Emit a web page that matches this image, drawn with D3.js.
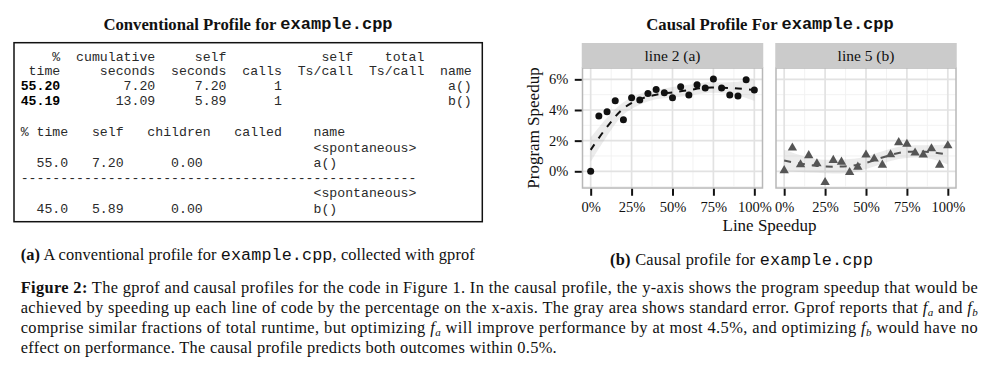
<!DOCTYPE html>
<meta charset="utf-8">
<style>
    html, body {
        margin: 0;
        padding: 0;
        background: #fff;
    }

    svg text {
        font-family: "Liberation Serif", "Times New Roman", serif;
        fill: #111;
    }

    svg .mono {
        font-family: "Liberation Mono", "Courier New", monospace;
    }

    .axis text {
        font-family: "Liberation Serif", serif;
        font-size: 14.5px;
        fill: #111;
    }

    .axis line {
        stroke: #111;
        stroke-width: 2px;
    }

    .axis path {
        display: none;
    }
</style>
<body>
<div id="fig"></div>
<script src="https://cdn.jsdelivr.net/npm/d3@7"></script>
<script>
// ---- causal profile data ----
var speedup = [0, 5, 10, 15, 20, 25, 30, 35, 40, 45, 50, 55, 60, 65, 70, 75, 80, 85, 90, 95, 100];
var lineA = [0, 3.6, 3.89, 4.6, 3.36, 4.8, 4.65, 5.07, 5.33, 5.13, 4.8, 5.52, 4.98, 5.65, 5.44, 6.03, 5.44, 4.98, 4.91, 5.98, 5.31];
var lineB = [0.05, 1.53, 0.44, 1.03, 0.5, -0.72, 0.72, 0.61, -0.07, 0.28, 1.07, 0.81, 0.41, 1.09, 1.88, 1.77, 1.2, 1.07, 1.48, 0.41, 1.68];

// smoothed fit and standard error band
var fitX = [0, 10, 20, 30, 40, 50, 60, 70, 80, 90, 100];
var fitA = [1.4, 2.9, 4.1, 4.7, 5.0, 5.15, 5.3, 5.45, 5.45, 5.4, 5.3];
var loA  = [0.6, 2.3, 3.7, 4.35, 4.7, 4.8, 4.95, 5.1, 5.1, 4.95, 4.6];
var hiA  = [2.2, 3.5, 4.5, 5.05, 5.3, 5.5, 5.65, 5.8, 5.8, 5.85, 6.0];
var fitB = [0.7, 0.5, 0.35, 0.3, 0.35, 0.55, 0.9, 1.2, 1.3, 1.25, 1.1];
var loB  = [0.0, -0.05, -0.1, -0.15, -0.1, 0.15, 0.5, 0.8, 0.9, 0.8, 0.45];
var hiB  = [1.4, 1.05, 0.8, 0.75, 0.8, 0.95, 1.3, 1.6, 1.7, 1.7, 1.75];

var xTicks = [0, 25, 50, 75, 100];
var xMinor = [12.5, 37.5, 62.5, 87.5];
var yTicks = [0, 2, 4, 6];
var yMinor = [-1, 1, 3, 5];
var panelNames = ["line 2 (a)", "line 5 (b)"];

// ---- gprof output ----
var flatHead1 = ["%", "cumulative", "self", "", "self", "total", ""];
var flatHead2 = ["time", "seconds", "seconds", "calls", "Ts/call", "Ts/call", "name"];
var flatRows = [
    ["55.20", "7.20", "7.20", "1", "", "", "a()"],
    ["45.19", "13.09", "5.89", "1", "", "", "b()"]
];
var callHead = ["% time", "self", "children", "called", "name"];
var callRows = [
    ["55.0", "7.20", "0.00", "", "a()"],
    ["45.0", "5.89", "0.00", "", "b()"]
];

var svg = d3.select("#fig").append("svg")
    .attr("width", 992)
    .attr("height", 371);

svg.append("rect")
    .attr("width", 992)
    .attr("height", 371)
    .attr("fill", "#fff");

// titles
function title(cx, label) {
    var t = svg.append("text")
        .attr("x", cx)
        .attr("y", 24)
        .attr("text-anchor", "middle")
        .attr("dominant-baseline", "central")
        .style("font-weight", "bold")
        .style("font-size", "16.7px");
    t.append("tspan").text(label);
    t.append("tspan").attr("class", "mono").style("font-size", "17px").text("example.cpp");
}
title(248, "Conventional Profile for ");
title(770, "Causal Profile For ");

// ---- left: the gprof table ----
svg.append("rect")
    .attr("x", 14)
    .attr("y", 42.7)
    .attr("width", 468.3)
    .attr("height", 179)
    .attr("fill", "none")
    .attr("stroke", "#111")
    .attr("stroke-width", 1.5);

var flatWidths = [5, 12, 9, 7, 9, 9, 6];
function flatLine(cells) {
    return cells.map(function(c, i) { return c.padStart(flatWidths[i]); });
}

var tableX = 20.7;
var table = svg.append("g");

function monoText(y, parts) {
    var t = table.append("text")
        .attr("class", "mono")
        .attr("x", tableX)
        .attr("y", y)
        .attr("xml:space", "preserve")
        .style("white-space", "pre")
        .style("font-size", "13.2px")
        .style("fill", "#2a2a2a");
    parts.forEach(function(p) {
        t.append("tspan")
            .style("font-weight", p.bold ? "bold" : null)
            .style("fill", p.bold ? "#000" : null)
            .text(p.text);
    });
}

monoText(60.5, [{text: flatLine(flatHead1).join("")}]);
monoText(75.3, [{text: flatLine(flatHead2).join("")}]);
flatRows.forEach(function(r, i) {
    var cells = flatLine(r);
    monoText(90.1 + i * 14.8, [{text: cells[0], bold: true}, {text: cells.slice(1).join("")}]);
});

// call graph part
var callStarts = [0, 9, 16, 27, 37];
function callHeadLine() {
    var s = "";
    callHead.forEach(function(h, i) { s = s.padEnd(callStarts[i]) + h; });
    return s;
}
function callRowLine(r) {
    var s = r[0].padStart(6) + r[1].padStart(7) + r[2].padStart(10) + r[3];
    return s.padEnd(callStarts[4]) + r[4];
}

var callY = 136.2, callStep = 15.3;
monoText(callY, [{text: callHeadLine()}]);
callRows.forEach(function(r, i) {
    var base = callY + callStep * (1 + i * 3);
    monoText(base, [{text: "".padEnd(callStarts[4]) + "<spontaneous>"}]);
    monoText(base + callStep, [{text: callRowLine(r)}]);
    if (i < callRows.length - 1) {
        monoText(base + 2 * callStep, [{text: "-".repeat(50)}]);
    }
});

// ---- right: the causal profile panels ----
var panelX = [582.5, 776],
    panelW = 180,
    stripTop = 43,
    panelTop = 68,
    panelBottom = 188;

var y = d3.scaleLinear().domain([-1.09, 6.74]).range([panelBottom, panelTop]);

var panels = [
    {name: panelNames[0], pts: lineA, fit: fitA, lo: loA, hi: hiA, color: "#111", shape: "circle"},
    {name: panelNames[1], pts: lineB, fit: fitB, lo: loB, hi: hiB, color: "#555", shape: "triangle"}
];

panels.forEach(function(p, i) {
    var x = d3.scaleLinear().domain([-5, 105]).range([panelX[i], panelX[i] + panelW]);
    var g = svg.append("g");

    // grid
    g.selectAll(".minorx").data(xMinor).enter().append("line")
        .attr("x1", x).attr("x2", x)
        .attr("y1", panelTop).attr("y2", panelBottom)
        .attr("stroke", "#f0f0f0").attr("stroke-width", 0.9);
    g.selectAll(".minory").data(yMinor).enter().append("line")
        .attr("x1", panelX[i]).attr("x2", panelX[i] + panelW)
        .attr("y1", y).attr("y2", y)
        .attr("stroke", "#f0f0f0").attr("stroke-width", 0.9);
    g.selectAll(".majorx").data(xTicks).enter().append("line")
        .attr("x1", x).attr("x2", x)
        .attr("y1", panelTop).attr("y2", panelBottom)
        .attr("stroke", "#e2e2e2").attr("stroke-width", 1.7);
    g.selectAll(".majory").data(yTicks).enter().append("line")
        .attr("x1", panelX[i]).attr("x2", panelX[i] + panelW)
        .attr("y1", y).attr("y2", y)
        .attr("stroke", "#e2e2e2").attr("stroke-width", 1.7);

    // standard error ribbon
    var band = fitX.map(function(d, k) { return {x: d, lo: p.lo[k], hi: p.hi[k], fit: p.fit[k]}; });
    g.append("path")
        .datum(band)
        .attr("fill", "#aaa")
        .attr("fill-opacity", 0.22)
        .attr("d", d3.area()
            .curve(d3.curveCatmullRom)
            .x(function(d) { return x(d.x); })
            .y0(function(d) { return y(d.lo); })
            .y1(function(d) { return y(d.hi); }));

    g.append("path")
        .datum(band)
        .attr("fill", "none")
        .attr("stroke", p.color)
        .attr("stroke-width", 2)
        .attr("stroke-dasharray", "7,7")
        .attr("d", d3.line()
            .curve(d3.curveCatmullRom)
            .x(function(d) { return x(d.x); })
            .y(function(d) { return y(d.fit); }));

    // points
    var pts = speedup.map(function(s, k) { return {x: s, y: p.pts[k]}; });
    if (p.shape === "circle") {
        g.selectAll(".pt").data(pts).enter().append("circle")
            .attr("cx", function(d) { return x(d.x); })
            .attr("cy", function(d) { return y(d.y); })
            .attr("r", 3.5)
            .attr("fill", p.color);
    } else {
        g.selectAll(".pt").data(pts).enter().append("path")
            .attr("transform", function(d) { return "translate(" + x(d.x) + "," + y(d.y) + ")"; })
            .attr("d", d3.symbol(d3.symbolTriangle, 38))
            .attr("fill", p.color);
    }

    // panel border and strip
    g.append("rect")
        .attr("x", panelX[i]).attr("y", panelTop)
        .attr("width", panelW).attr("height", panelBottom - panelTop)
        .attr("fill", "none")
        .attr("stroke", "#b8b8b8")
        .attr("stroke-width", 1.5);
    g.append("rect")
        .attr("x", panelX[i] - 0.75).attr("y", stripTop)
        .attr("width", panelW + 1.5).attr("height", panelTop - stripTop)
        .attr("fill", "#cbcbcb");
    g.append("text")
        .attr("x", panelX[i] + panelW / 2)
        .attr("y", (stripTop + panelTop) / 2)
        .attr("text-anchor", "middle")
        .attr("dominant-baseline", "central")
        .style("font-size", "15.5px")
        .text(p.name);

    // x axis
    svg.append("g")
        .attr("class", "axis")
        .attr("transform", "translate(0," + (panelBottom + 0.75) + ")")
        .call(d3.axisBottom(x).tickValues(xTicks).tickSize(7).tickPadding(6)
            .tickFormat(function(d) { return d + "%"; }));

    // y axis on the first panel only
    if (i === 0) {
        svg.append("g")
            .attr("class", "axis")
            .attr("transform", "translate(" + (panelX[i] - 0.75) + ",0)")
            .call(d3.axisLeft(y).tickValues(yTicks).tickSize(7).tickPadding(6.5)
                .tickFormat(function(d) { return d + "%"; }));
    }
});

svg.selectAll(".axis text").style("font-family", "Liberation Serif").style("font-size", "14.5px");

svg.append("text")
    .attr("transform", "translate(539,128) rotate(-90)")
    .attr("text-anchor", "middle")
    .style("font-size", "17px")
    .text("Program Speedup");

svg.append("text")
    .attr("x", 769.5)
    .attr("y", 231)
    .attr("text-anchor", "middle")
    .style("font-size", "17px")
    .text("Line Speedup");

// ---- captions ----
var capSize = 16.4;
function caption(x, yb, len, anchor, parts) {
    var t = svg.append("text")
        .attr("x", x)
        .attr("y", yb)
        .attr("text-anchor", anchor)
        .style("font-size", capSize + "px");
    if (len) t.attr("textLength", len).attr("lengthAdjust", "spacing");
    parts.forEach(function(p) {
        var s = t.append("tspan").text(p[0]);
        if (p[1] === "b") s.style("font-weight", "bold");
        if (p[1] === "m") s.attr("class", "mono").style("font-size", "16.8px");
        if (p[1] === "f") s.style("font-style", "italic");
        if (p[1] === "sub") s.style("font-style", "italic").style("font-size", "11px").attr("dy", 3);
        if (p[1] === "up") s.attr("dy", -3);
    });
}

caption(20.7, 260, 454, "start", [
    ["(a)", "b"], [" A conventional profile for "], ["example.cpp", "m"], [", collected with gprof"]
]);
caption(610, 265, 263, "start", [
    ["(b)", "b"], [" Causal profile for "], ["example.cpp", "m"]
]);

caption(20.7, 293, 957, "start", [
    ["Figure 2:", "b"],
    [" The gprof and causal profiles for the code in Figure 1. In the causal profile, the y-axis shows the program speedup that would be"]
]);
caption(20.7, 313, 957, "start", [
    ["achieved by speeding up each line of code by the percentage on the x-axis. The gray area shows standard error. Gprof reports that "],
    ["f", "f"], ["a", "sub"], [" and ", "up"], ["f", "f"], ["b", "sub"]
]);
caption(20.7, 333, 957, "start", [
    ["comprise similar fractions of total runtime, but optimizing "],
    ["f", "f"], ["a", "sub"], [" will improve performance by at most 4.5%, and optimizing ", "up"],
    ["f", "f"], ["b", "sub"], [" would have no", "up"]
]);
caption(20.7, 353, 536, "start", [
    ["effect on performance. The causal profile predicts both outcomes within 0.5%."]
]);
</script>
</body>
